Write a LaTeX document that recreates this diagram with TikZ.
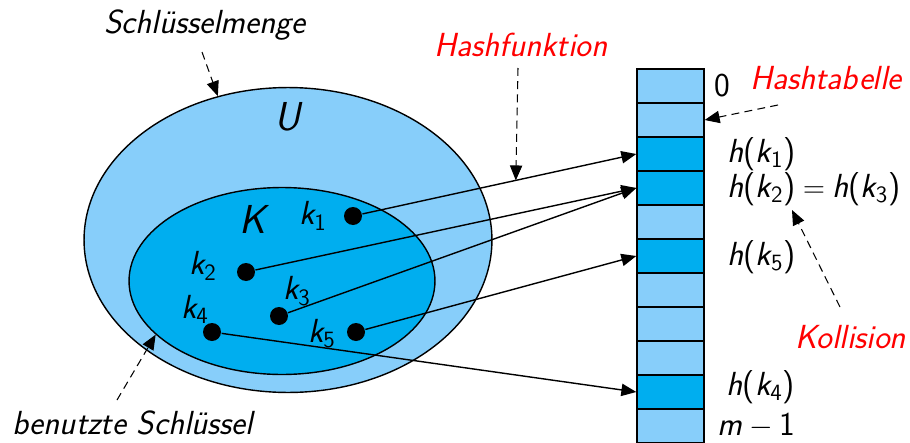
\documentclass[tikz,border=0pt]{standalone}
\usetikzlibrary{arrows.meta, shapes.geometric}
\definecolor{lightcell}{RGB}{135,206,250}
\definecolor{darkcell}{RGB}{0,174,239}
\newcommand{\kx}[1]{\textit{k}\textsubscript{\upshape #1}}
\newcommand{\hx}[1]{\textit{h}{\upshape(}\kx{#1}{\upshape)}}

\begin{document}
\begin{tikzpicture}[x=0.02cm, y=-0.02cm, line width=0.8pt,
    every node/.style={font=\fontsize{19}{22}\selectfont\sffamily\itshape, inner sep=1pt},
    arr/.style={-{Triangle[length=8.5pt,width=7pt]}},
    dasharr/.style={arr, dash pattern=on 4.5pt off 3pt, line width=0.6pt},
    keydot/.style={circle, fill=black, minimum size=0.36cm, inner sep=0pt},
    cell/.style={draw, minimum width=1.34cm, minimum height=0.68cm, inner sep=0pt}]
    \useasboundingbox (0,0) rectangle (910,443);

    % sets
    \node[ellipse, draw, fill=lightcell, inner sep=0pt, minimum width=8.16cm, minimum height=6.1cm] (U) at (288,240) {};
    \node[ellipse, draw, fill=darkcell, inner sep=0pt, minimum width=6.12cm, minimum height=3.74cm] (K) at (282,281) {};
    \node[font=\fontsize{23}{26}\selectfont\sffamily\itshape] (ul) at (288,117) {U};
    \node[font=\fontsize{23}{26}\selectfont\sffamily\itshape] (kl) at (253,219) {K};

    % keys
    \node[keydot] (k1) at (353,216) {};
    \node[keydot] (k2) at (246,272) {};
    \node[keydot] (k3) at (279,316) {};
    \node[keydot] (k4) at (212,332) {};
    \node[keydot] (k5) at (356,332) {};
    \node (k1l) at (313,216) {\kx{1}};
    \node (k2l) at (203,266) {\kx{2}};
    \node (k3l) at (297,291) {\kx{3}};
    \node (k4l) at (195,309) {\kx{4}};
    \node (k5l) at (322,334) {\kx{5}};

    % table
    \foreach \i/\shade in {0/lightcell,1/lightcell,2/darkcell,3/darkcell,4/lightcell,5/darkcell,6/lightcell,7/lightcell,8/lightcell,9/darkcell,10/lightcell}
        \node[cell, fill=\shade] (c\i) at (670.5,{86+34*\i}) {};

    \node[anchor=west] (l0) at (712,86) {\upshape 0};
    \node[anchor=west] (lk1) at (725,154) {\hx{1}};
    \node[anchor=west] (lk23) at (725,189) {\hx{2}\hspace{0.22em}$=$\hspace{0.22em}\hx{3}};
    \node[anchor=west] (lk5) at (725,257) {\hx{5}};
    \node[anchor=west, inner sep=0pt] (lk4) at (726,387) {\hx{4}};
    \node[anchor=west, inner sep=0pt] (lm) at (717,426) {m\hspace{0.2em}$-$\hspace{0.2em}{\upshape 1}};

    % hash arrows
    \draw[arr] (k1) -- (c2.west) coordinate[pos=0.56] (hf);
    \draw[arr] (k2) -- (c3.west);
    \draw[arr] (k3) -- (c3.west);
    \draw[arr] (k5) -- (c5.west);
    \draw[arr] (k4) -- (c9.west);

    % notes
    \node (sm) at (205,25) {Schlüsselmenge};
    \node (bs) at (133,423) {benutzte Schlüssel};
    \node[color=red] (hfl) at (521,45) {Hashfunktion};
    \node[color=red] (htl) at (826,78) {Hashtabelle};
    \node[color=red] (kol) at (851,337) {Kollision};

    \coordinate (smt) at (202,52);
    \coordinate (bst) at (117,400);
    \coordinate (hft) at (518,68);
    \coordinate (htt) at (778,105);
    \coordinate (kot) at (840,307);
    \coordinate (koh) at (792,210);

    \draw[dasharr] (smt) -- (U.116);
    \draw[dasharr] (bst) -- (K.203);
    \draw[dasharr] (hft) -- (hf);
    \draw[dasharr] (htt) -- (c1.east);
    \draw[dasharr] (kot) -- (koh);
\end{tikzpicture}
\end{document}
